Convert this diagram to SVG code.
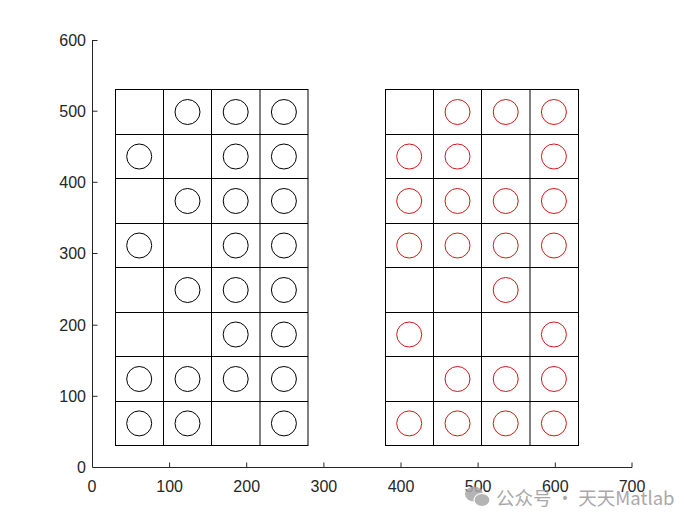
<svg xmlns="http://www.w3.org/2000/svg" width="700" height="525" viewBox="0 0 700 525">
<style>
.ax{stroke:#262626;stroke-width:1;fill:none}
.tl{font-family:"Liberation Sans",Arial,sans-serif;font-size:16px;fill:#262626}
.g{stroke:#000;stroke-width:1;fill:none}
.cb{stroke:#000;stroke-width:1;fill:none}
.cr{stroke:#d01818;stroke-width:1;fill:none}
.wm{font-family:"Noto Sans CJK SC","Liberation Sans",sans-serif;font-size:18.5px;fill:#9a9a9a}
</style>
<rect width="700" height="525" fill="#fff"/>
<g id="axes">
<path class="ax" d="M92.5,40 V467.5 H632"/>
<path class="ax" d="M169.6,467.5 v-5 M246.7,467.5 v-5 M323.9,467.5 v-5 M401,467.5 v-5 M478.1,467.5 v-5 M555.3,467.5 v-5 M632,467.5 v-5"/>
<path class="ax" d="M92.5,396.3 h5 M92.5,325.2 h5 M92.5,253.5 h5 M92.5,182.3 h5 M92.5,111.2 h5 M92.5,40.5 h5"/>
<g class="tl" text-anchor="middle">
<text x="92" y="492">0</text><text x="169.6" y="492">100</text><text x="246.7" y="492">200</text><text x="323.9" y="492">300</text><text x="401" y="492">400</text><text x="478.1" y="492">500</text><text x="555.3" y="492">600</text><text x="632" y="492">700</text>
</g>
<g class="tl" text-anchor="end">
<text x="86" y="473">0</text><text x="86" y="402">100</text><text x="86" y="331">200</text><text x="86" y="259">300</text><text x="86" y="188">400</text><text x="86" y="117">500</text><text x="86" y="46">600</text>
</g>
</g>
<g id="grid-left">
<rect class="g" x="115.5" y="89.5" width="192.5" height="356"/>
<path class="g" d="M163.5,89.5V445.5M211.5,89.5V445.5M260,89.5V445.5M115.5,134.5H308M115.5,178.5H308M115.5,223.5H308M115.5,267.5H308M115.5,312.5H308M115.5,356.5H308M115.5,401.5H308"/>
</g>
<g id="grid-right">
<rect class="g" x="385.5" y="89.5" width="193" height="356"/>
<path class="g" d="M433.5,89.5V445.5M481.5,89.5V445.5M530,89.5V445.5M385.5,134.5H578.5M385.5,178.5H578.5M385.5,223.5H578.5M385.5,267.5H578.5M385.5,312.5H578.5M385.5,356.5H578.5M385.5,401.5H578.5"/>
</g>
<g id="circles-left" class="cb">
<circle cx="187.5" cy="112" r="12.5"/><circle cx="235.7" cy="112" r="12.5"/><circle cx="283.9" cy="112" r="12.5"/>
<circle cx="139.2" cy="156.5" r="12.5"/><circle cx="235.7" cy="156.5" r="12.5"/><circle cx="283.9" cy="156.5" r="12.5"/>
<circle cx="187.5" cy="201" r="12.5"/><circle cx="235.7" cy="201" r="12.5"/><circle cx="283.9" cy="201" r="12.5"/>
<circle cx="139.2" cy="245.5" r="12.5"/><circle cx="235.7" cy="245.5" r="12.5"/><circle cx="283.9" cy="245.5" r="12.5"/>
<circle cx="187.5" cy="290" r="12.5"/><circle cx="235.7" cy="290" r="12.5"/><circle cx="283.9" cy="290" r="12.5"/>
<circle cx="235.7" cy="334.5" r="12.5"/><circle cx="283.9" cy="334.5" r="12.5"/>
<circle cx="139.2" cy="379" r="12.5"/><circle cx="187.5" cy="379" r="12.5"/><circle cx="235.7" cy="379" r="12.5"/><circle cx="283.9" cy="379" r="12.5"/>
<circle cx="139.2" cy="423.4" r="12.5"/><circle cx="187.5" cy="423.4" r="12.5"/><circle cx="283.9" cy="423.4" r="12.5"/>
</g>
<g id="circles-right" class="cr">
<circle cx="457.5" cy="112" r="12.5"/><circle cx="505.7" cy="112" r="12.5"/><circle cx="553.9" cy="112" r="12.5"/>
<circle cx="409.2" cy="156.5" r="12.5"/><circle cx="457.5" cy="156.5" r="12.5"/><circle cx="553.9" cy="156.5" r="12.5"/>
<circle cx="409.2" cy="201" r="12.5"/><circle cx="457.5" cy="201" r="12.5"/><circle cx="505.7" cy="201" r="12.5"/><circle cx="553.9" cy="201" r="12.5"/>
<circle cx="409.2" cy="245.5" r="12.5"/><circle cx="457.5" cy="245.5" r="12.5"/><circle cx="505.7" cy="245.5" r="12.5"/><circle cx="553.9" cy="245.5" r="12.5"/>
<circle cx="505.7" cy="290" r="12.5"/>
<circle cx="409.2" cy="334.5" r="12.5"/><circle cx="553.9" cy="334.5" r="12.5"/>
<circle cx="457.5" cy="379" r="12.5"/><circle cx="505.7" cy="379" r="12.5"/><circle cx="553.9" cy="379" r="12.5"/>
<circle cx="409.2" cy="423.4" r="12.5"/><circle cx="457.5" cy="423.4" r="12.5"/><circle cx="505.7" cy="423.4" r="12.5"/><circle cx="553.9" cy="423.4" r="12.5"/>
</g>
<g id="watermark" opacity="0.85">
<ellipse cx="474" cy="494" rx="9" ry="7.5" fill="#a8a8a8"/>
<ellipse cx="482" cy="500" rx="8" ry="6.5" fill="#a8a8a8" stroke="#fff" stroke-width="1.2"/>
<text class="wm" x="496" y="505">公众号 · 天天Matlab</text>
</g>
</svg>
